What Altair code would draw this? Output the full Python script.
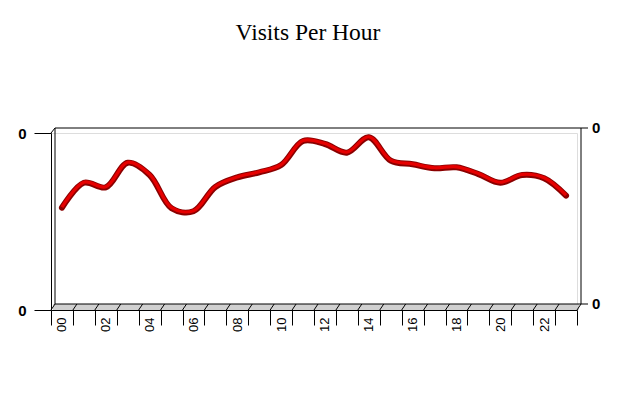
import altair as alt
import pandas as pd

# ---- data ----
hours = ["00", "01", "02", "03", "04", "05", "06", "07", "08", "09", "10", "11",
         "12", "13", "14", "15", "16", "17", "18", "19", "20", "21", "22", "23"]
visits = [0.578, 0.719, 0.693, 0.832, 0.763, 0.575, 0.558, 0.695, 0.749, 0.778, 0.819, 0.955,
          0.938, 0.889, 0.976, 0.844, 0.823, 0.801, 0.806, 0.768, 0.719, 0.763, 0.744, 0.646]
y_tick_values = [0, 1]
y_tick_label = "0"
chart_title = "Visits Per Hour"

df = pd.DataFrame({"hour": hours, "visits": visits})
one = pd.DataFrame({"k": [0]})

DX, DY = 4, -6   # 3D depth offsets (style)
FONT = "Liberation Sans"

xs = alt.Scale(type="band", domain=hours, paddingInner=0, paddingOuter=0)
ys = alt.Scale(domain=[0, 1], nice=False, zero=True)

x_axis = alt.Axis(title=None, tickBand="extent", labelAngle=270, tickSize=15, labelPadding=-8,
                  labelExpr="toNumber(datum.value) % 2 == 0 ? datum.label : ''",
                  labelFont=FONT, labelFontSize=13, labelColor="black",
                  tickColor="black", domainColor="black", grid=False)
y_axis = alt.Axis(title=None, values=y_tick_values, labelExpr="'" + y_tick_label + "'",
                  tickSize=17, labelPadding=8, labelFlush=False, grid=False,
                  labelFont=FONT, labelFontSize=15, labelFontWeight="bold", labelColor="black",
                  tickColor="black", domainColor="black")


def xd(v, bp):
    return alt.XDatum(v, type="ordinal", bandPosition=bp, scale=xs, axis=x_axis, title=None)


def yd(v):
    return alt.YDatum(v, type="quantitative", scale=ys, axis=y_axis, title=None)


def rule(enc, **mk):
    return alt.Chart(one).mark_rule(color="black", strokeWidth=1, **mk).encode(**enc)


first, last = hours[0], hours[-1]

# floor (gray band)
floor = alt.Chart(df).mark_rect(color="#d0d0d0", xOffset=2, x2Offset=2, y2Offset=DY).encode(
    x=alt.X("hour:O", scale=xs, axis=x_axis, title=None),
    y=yd(0),
    y2=alt.Y2Datum(0),
)
# floor slanted dividers
floor_div = alt.Chart(df).mark_rule(color="black", strokeWidth=1, x2Offset=DX, y2Offset=DY).encode(
    x=alt.X("hour:O", scale=xs, axis=x_axis, title=None, bandPosition=0),
    x2=alt.X2("hour", bandPosition=0),
    y=yd(0),
    y2=alt.Y2Datum(0),
)
floor_end = rule(dict(x=xd(last, 1), x2=alt.X2Datum(last, bandPosition=1), y=yd(0), y2=alt.Y2Datum(0)),
                 x2Offset=DX, y2Offset=DY)
floor_top = rule(dict(x=xd(first, 0), x2=alt.X2Datum(last, bandPosition=1), y=yd(0)),
                 xOffset=DX, x2Offset=DX, yOffset=DY)
# back wall lines
back_top = rule(dict(x=xd(first, 0), x2=alt.X2Datum(last, bandPosition=1), y=yd(1)),
                xOffset=DX, x2Offset=DX, yOffset=-5)
back_left = rule(dict(x=xd(first, 0), y=yd(1), y2=alt.Y2Datum(0)),
                 xOffset=DX, yOffset=-5, y2Offset=DY)
back_right = rule(dict(x=xd(last, 1), y=yd(1), y2=alt.Y2Datum(0)),
                  xOffset=DX, yOffset=-5, y2Offset=DY)
corner = rule(dict(x=xd(first, 0), x2=alt.X2Datum(first, bandPosition=0), y=yd(1), y2=alt.Y2Datum(1)),
              x2Offset=DX, y2Offset=-5)
# right axis ticks + labels
r_tick_top = rule(dict(x=xd(last, 1), x2=alt.X2Datum(last, bandPosition=1), y=yd(1)),
                  xOffset=DX, x2Offset=DX + 7, yOffset=-5)
r_tick_bot = rule(dict(x=xd(last, 1), x2=alt.X2Datum(last, bandPosition=1), y=yd(0)),
                  xOffset=DX, x2Offset=DX + 7, yOffset=DY)
r_lab_top = alt.Chart(one).mark_text(text=y_tick_label, align="left", baseline="middle", dx=DX + 11, dy=-5,
                                     font=FONT, fontSize=15, fontWeight="bold", color="black").encode(
    x=xd(last, 1), y=yd(1))
r_lab_bot = alt.Chart(one).mark_text(text=y_tick_label, align="left", baseline="middle", dx=DX + 11, dy=DY,
                                     font=FONT, fontSize=15, fontWeight="bold", color="black").encode(
    x=xd(last, 1), y=yd(0))

x_main = alt.X("hour:O", scale=xs, bandPosition=0.5, axis=x_axis, title=None)
y_main = alt.Y("visits:Q", scale=ys, axis=y_axis, title=None)

line_shadow = alt.Chart(df).mark_line(interpolate="catmull-rom", color="#8a0000", strokeWidth=6,
                                      strokeCap="round").encode(x=x_main, y=y_main)
line_main = alt.Chart(df).mark_line(interpolate="catmull-rom", color="#e60000", strokeWidth=3.2,
                                    yOffset=-0.5).encode(x=x_main, y=y_main)

chart = alt.layer(
    floor, floor_div, floor_end, floor_top, back_top, back_left, back_right, corner,
    r_tick_top, r_tick_bot, r_lab_top, r_lab_bot, line_shadow, line_main
).properties(
    width=526, height=177,
    padding={"left": 43, "top": 125, "right": 35, "bottom": 82},
    autosize=alt.AutoSizeParams(type="none"),
    title=alt.TitleParams(chart_title, font="Liberation Serif", fontSize=23.5, fontWeight="normal",
                          color="black", anchor="middle", offset=77, dx=-6),
).configure_view(strokeWidth=0).configure(background="white")

chart.save("out.html", embed_options={"renderer": "svg", "actions": False})
